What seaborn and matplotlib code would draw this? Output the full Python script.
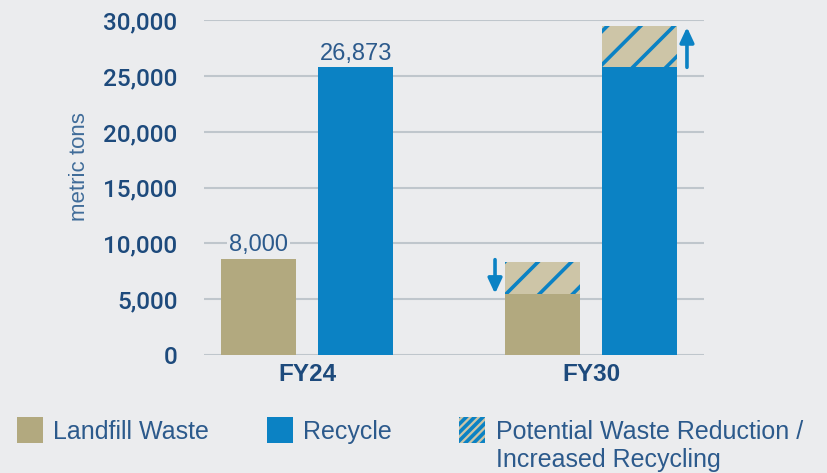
import matplotlib
matplotlib.use("Agg")
import matplotlib.pyplot as plt
import numpy as np
import pandas as pd
import seaborn as sns
from matplotlib.patches import Rectangle
from matplotlib.ticker import StrMethodFormatter

categories = ["FY24", "FY30"]
streams = ["Landfill Waste", "Recycle"]
landfill = [8600, 5500]
recycle = [25800, 25800]
# totals incl. potential reduction / increased recycling (FY30 only)
potential_landfill = [np.nan, 8300]
potential_recycle = [np.nan, 29500]
fy24_labels = ["8,000", "26,873"]
legend_labels = ["Landfill Waste", "Recycle", "Potential Waste Reduction /\nIncreased Recycling"]
y_ticks = [0, 5000, 10000, 15000, 20000, 25000, 30000]

BG = "#ebecee"
TAN = "#b2a97f"
TAN_LIGHT = "#cdc5a7"
BLUE = "#0b82c4"
NAVY = "#1d4a7c"
TEXT = "#2c5a8c"
LIGHT_TEXT = "#3f6c99"
GRID = "#bfc6cc"


def setup_style():
    sns.set_style("white", rc={"axes.facecolor": BG, "figure.facecolor": BG})
    plt.rcParams["font.family"] = ["Liberation Sans", "DejaVu Sans"]
    plt.rcParams["hatch.linewidth"] = 2.6


def main():
    setup_style()
    base = pd.DataFrame({
        "year": np.repeat(categories, 2),
        "stream": streams * 2,
        "tons": [v for pair in zip(landfill, recycle) for v in pair],
    })
    total = pd.DataFrame({
        "year": np.repeat(categories, 2),
        "stream": streams * 2,
        "tons": [v for pair in zip(potential_landfill, potential_recycle) for v in pair],
    }).dropna()

    fig = plt.figure(figsize=(8.27, 4.73), dpi=100)
    ax = fig.add_axes([204 / 827, 1 - 355 / 473, 500 / 827, 334.5 / 473])

    common = dict(x="year", y="tons", hue="stream", order=categories, hue_order=streams,
                  width=0.684, gap=0.228, saturation=1, legend=False, ax=ax)
    sns.barplot(data=total, palette={s: TAN_LIGHT for s in streams}, hatch="/",
                edgecolor=BLUE, linewidth=0, zorder=3, **common)
    sns.barplot(data=base, palette={"Landfill Waste": TAN, "Recycle": BLUE},
                linewidth=0, zorder=4, **common)

    # value labels on FY24 bars
    for cont, lab in zip(ax.containers[-2:], fy24_labels):
        ax.bar_label(cont, labels=[lab, ""], padding=2, fontsize=17, color=TEXT,
                     bbox=dict(facecolor=BG, edgecolor="none", pad=1.5), zorder=5)

    # arrows next to the FY30 potential segments
    off = 0.035
    arrow = dict(arrowstyle="-|>,head_length=0.9,head_width=0.42",
                 color=BLUE, lw=2.6, shrinkA=0, shrinkB=0)
    hatch_l, hatch_r = ax.containers[0][0], ax.containers[1][0]
    xl = hatch_l.get_x() - off
    xr = hatch_r.get_x() + hatch_r.get_width() + off
    ax.annotate("", xy=(xl, landfill[1]), xytext=(xl, potential_landfill[1] + 250),
                arrowprops=arrow, zorder=5)
    ax.annotate("", xy=(xr, potential_recycle[1] - 100), xytext=(xr, recycle[1]),
                arrowprops=arrow, zorder=5)

    ax.set_xlim(-0.363, 1.398)
    ax.set_ylim(0, 30000)
    ax.set_yticks(y_ticks)
    ax.yaxis.set_major_formatter(StrMethodFormatter("{x:,.0f}"))
    ax.grid(axis="y", color=GRID, linewidth=1.5, zorder=0)
    ax.set_axisbelow(True)
    for s in ax.spines.values():
        s.set_visible(False)
    ax.tick_params(axis="both", length=0)
    ax.tick_params(axis="y", pad=19, labelsize=17.5, labelcolor=NAVY)
    ax.tick_params(axis="x", pad=6, labelsize=17.5, labelcolor=NAVY)
    for t in ax.get_yticklabels():
        t.set_family(["Roboto", "Liberation Sans"])
        t.set_fontweight("medium")
    for t in ax.get_xticklabels():
        t.set_fontweight("bold")
    ax.set_xlabel("")
    ax.set_ylabel("metric tons", fontsize=16, color=LIGHT_TEXT)
    ax.yaxis.set_label_coords(-0.228, 0.562)

    # legend laid out by hand: swatch left edges and text starts in pixels
    swatch_x = [17, 267, 459]
    text_x = [53, 303, 496]
    colors = [TAN, BLUE, TAN_LIGHT]
    for i, lab in enumerate(legend_labels):
        fig.patches.append(Rectangle((swatch_x[i] / 827, 1 - 443 / 473), 26 / 827, 26 / 473,
                                     transform=fig.transFigure, facecolor=colors[i],
                                     edgecolor=BLUE if i == 2 else "none", linewidth=0,
                                     hatch="////" if i == 2 else None))
        fig.text(text_x[i] / 827, 1 - 420 / 473, lab, fontsize=18, color=TEXT,
                 va="top", ha="left", linespacing=1.22)

    fig.savefig("out.png", dpi=100, facecolor=BG)


if __name__ == "__main__":
    main()
